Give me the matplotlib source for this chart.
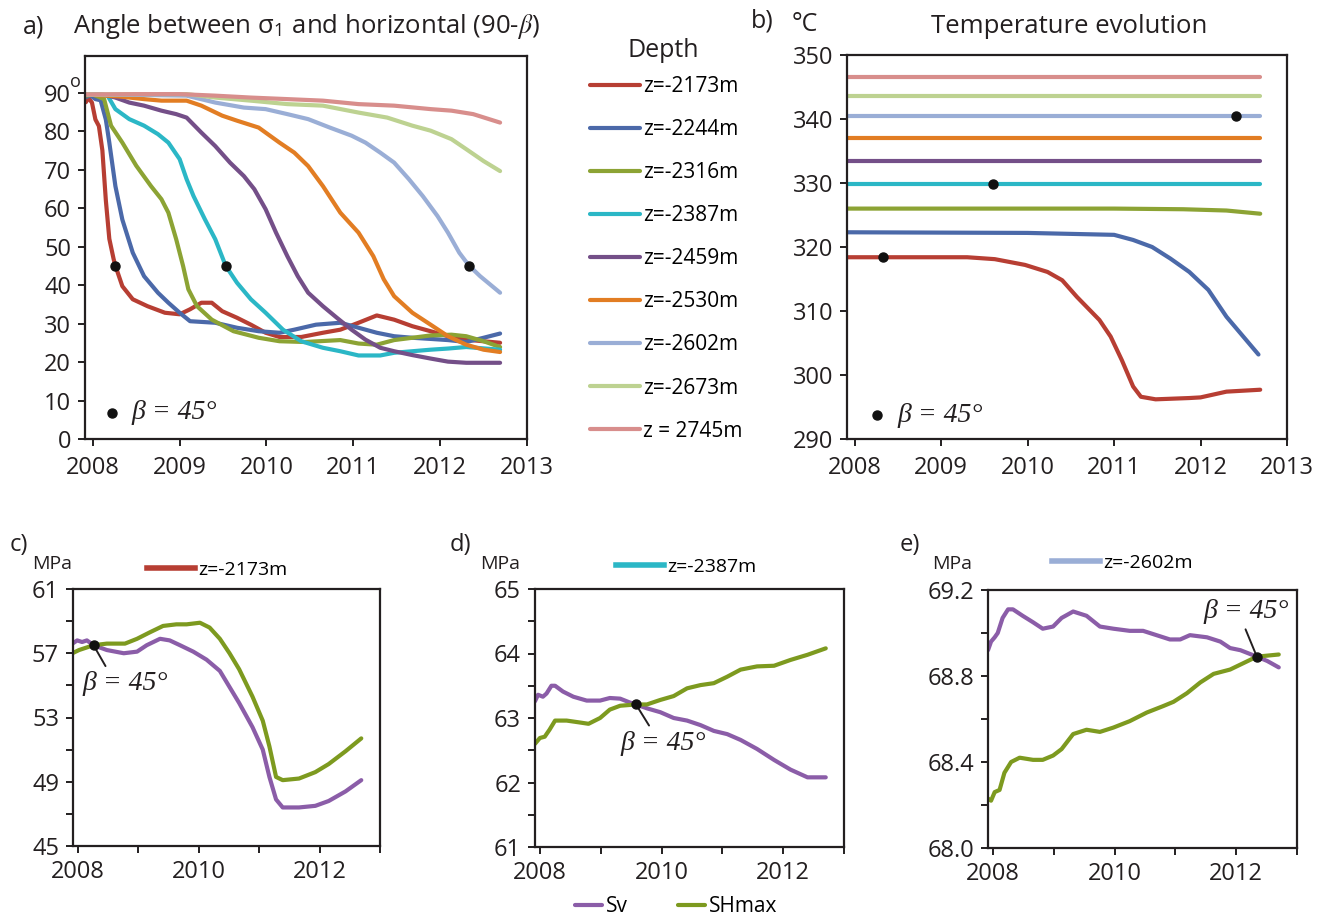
import matplotlib.pyplot as plt
from matplotlib.lines import Line2D

plt.rcParams['font.family'] = ['Open Sans', 'DejaVu Sans']
plt.rcParams['mathtext.fontset'] = 'stix'

W, H = 1325, 919

# ---- depth series (legend order) ----
depth_labels = ['z=-2173m', 'z=-2244m', 'z=-2316m', 'z=-2387m', 'z=-2459m',
                'z=-2530m', 'z=-2602m', 'z=-2673m', 'z = 2745m']
depth_colors = ['#b73e33', '#4b69a9', '#8ca334', '#2bb7c6', '#744f88',
                '#e27d23', '#9aaed6', '#bdd291', '#d88e8c']

# ---- a) angle between sigma1 and horizontal ----
ang_2173_t = [2007.92, 2007.95, 2007.99, 2008.03, 2008.07, 2008.11, 2008.15, 2008.19, 2008.24,
              2008.26, 2008.34, 2008.46, 2008.63, 2008.83, 2009.0, 2009.12, 2009.25, 2009.37,
              2009.49, 2009.66, 2009.82, 2009.99, 2010.15, 2010.40, 2010.65, 2010.85, 2011.06,
              2011.27, 2011.47, 2011.68, 2011.89, 2012.09, 2012.30, 2012.69]
ang_2173 = [87.5, 88.6, 87.4, 83.0, 81.3, 75.0, 62.0, 52.0, 46.7, 45.0, 39.7, 36.3, 34.5, 32.8,
            32.4, 33.7, 35.4, 35.4, 33.2, 31.5, 29.7, 27.6, 26.5, 26.5, 27.6, 28.4, 30.2, 32.1,
            31.0, 29.3, 28.0, 26.7, 25.8, 25.0]
ang_2244_t = [2007.92, 2007.97, 2008.03, 2008.09, 2008.15, 2008.19, 2008.26, 2008.34, 2008.46,
              2008.59, 2008.75, 2008.87, 2009.0, 2009.12, 2009.41, 2009.66, 2009.91, 2010.15,
              2010.32, 2010.57, 2010.85, 2011.06, 2011.27, 2011.47, 2011.68, 2011.89, 2012.09,
              2012.30, 2012.50, 2012.69]
ang_2244 = [88.8, 89.3, 88.3, 88.0, 83.0, 77.0, 65.7, 57.0, 48.4, 42.3, 38.0, 35.4, 32.8, 30.6,
            30.2, 28.9, 28.0, 27.6, 28.4, 29.7, 30.2, 28.9, 27.6, 26.7, 26.3, 26.0, 25.7, 25.2,
            26.3, 27.4]
ang_2316_t = [2007.92, 2008.0, 2008.13, 2008.21, 2008.34, 2008.50, 2008.67, 2008.79, 2008.87,
              2008.96, 2009.04, 2009.10, 2009.20, 2009.37, 2009.62, 2009.91, 2010.15, 2010.44,
              2010.85, 2011.06, 2011.27, 2011.47, 2011.68, 2011.89, 2012.13, 2012.30, 2012.50,
              2012.69]
ang_2316 = [89.2, 89.5, 88.3, 81.4, 77.0, 71.0, 65.7, 62.3, 58.8, 51.9, 44.9, 38.9, 34.5, 31.0,
            28.0, 26.3, 25.4, 25.2, 25.7, 24.8, 24.5, 25.7, 26.3, 26.9, 27.1, 26.7, 25.4, 23.9]
ang_2387_t = [2007.92, 2008.05, 2008.17, 2008.26, 2008.42, 2008.59, 2008.75, 2008.87, 2009.0,
              2009.08, 2009.16, 2009.29, 2009.41, 2009.53, 2009.66, 2009.82, 2009.99, 2010.19,
              2010.40, 2010.65, 2010.85, 2011.06, 2011.31, 2011.47, 2011.89, 2012.09, 2012.30,
              2012.69]
ang_2387 = [89.5, 89.6, 89.2, 85.7, 83.1, 81.4, 79.2, 77.0, 72.7, 67.5, 63.1, 57.1, 51.9, 45.0,
            40.6, 36.3, 32.8, 28.4, 25.4, 23.7, 22.8, 21.7, 21.7, 22.4, 23.2, 23.5, 23.9, 23.2]
ang_2459_t = [2007.92, 2008.1, 2008.26, 2008.42, 2008.59, 2008.79, 2008.96, 2009.08, 2009.25,
              2009.41, 2009.58, 2009.74, 2009.86, 2009.99, 2010.11, 2010.24, 2010.36, 2010.48,
              2010.65, 2010.81, 2010.98, 2011.14, 2011.31, 2011.47, 2011.68, 2011.89, 2012.09,
              2012.30, 2012.69]
ang_2459 = [89.5, 89.6, 88.7, 87.4, 86.6, 85.3, 84.4, 83.5, 79.6, 76.1, 71.8, 68.3, 64.9, 59.7,
            53.6, 47.5, 42.3, 38.0, 34.5, 31.5, 28.4, 25.8, 23.7, 22.8, 21.8, 20.9, 20.1, 19.8,
            19.8]
ang_2530_t = [2007.92, 2008.3, 2008.59, 2008.79, 2009.08, 2009.25, 2009.49, 2009.66, 2009.91,
              2010.15, 2010.32, 2010.48, 2010.65, 2010.85, 2011.06, 2011.23, 2011.35, 2011.47,
              2011.68, 2011.89, 2012.09, 2012.30, 2012.50, 2012.69]
ang_2530 = [89.5, 89.0, 88.3, 87.9, 87.9, 86.6, 84.0, 82.7, 80.9, 77.0, 74.4, 70.9, 65.7, 58.8,
            53.6, 47.5, 41.5, 37.1, 32.8, 29.7, 26.7, 24.5, 23.2, 22.6]
ang_2602_t = [2007.92, 2008.5, 2009.08, 2009.41, 2009.74, 2009.99, 2010.24, 2010.48, 2010.73,
              2010.98, 2011.14, 2011.31, 2011.47, 2011.64, 2011.80, 2011.97, 2012.09, 2012.22,
              2012.33, 2012.46, 2012.69]
ang_2602 = [89.5, 89.4, 89.2, 87.4, 86.1, 85.7, 84.4, 83.1, 80.9, 78.8, 77.0, 74.4, 71.8, 67.5,
            63.1, 57.9, 53.6, 48.4, 45.1, 42.3, 38.0]
ang_2673_t = [2007.92, 2008.5, 2009.08, 2009.41, 2009.82, 2010.24, 2010.65, 2011.06, 2011.39,
              2011.68, 2011.89, 2012.13, 2012.30, 2012.50, 2012.69]
ang_2673 = [89.5, 89.6, 89.6, 88.7, 87.9, 87.0, 86.6, 84.8, 83.5, 81.4, 80.1, 77.9, 75.3, 72.2,
            69.6]
ang_2745_t = [2007.92, 2008.5, 2009.0, 2009.41, 2009.82, 2010.24, 2010.65, 2011.06, 2011.47,
              2011.89, 2012.13, 2012.38, 2012.69]
ang_2745 = [89.5, 89.6, 89.6, 89.2, 88.7, 88.3, 87.9, 87.0, 86.6, 85.7, 85.3, 84.4, 82.2]
ang_times = [ang_2173_t, ang_2244_t, ang_2316_t, ang_2387_t, ang_2459_t,
             ang_2530_t, ang_2602_t, ang_2673_t, ang_2745_t]
ang_vals = [ang_2173, ang_2244, ang_2316, ang_2387, ang_2459,
            ang_2530, ang_2602, ang_2673, ang_2745]
ang_beta_t = [2008.26, 2009.53, 2012.33]
ang_beta_v = [45, 45, 45]

# ---- b) temperature evolution ----
tmp_2173_t = [2007.92, 2009.3, 2009.62, 2009.97, 2010.23, 2010.40, 2010.57, 2010.83, 2010.96,
              2011.09, 2011.22, 2011.31, 2011.48, 2011.87, 2012.0, 2012.30, 2012.69]
tmp_2173 = [318.4, 318.4, 318.1, 317.2, 316.1, 314.8, 312.2, 308.6, 306.0, 302.3, 298.2, 296.6,
            296.2, 296.4, 296.5, 297.4, 297.7]
tmp_2244_t = [2007.92, 2010.0, 2011.0, 2011.22, 2011.44, 2011.65, 2011.87, 2012.09, 2012.30,
              2012.67]
tmp_2244 = [322.3, 322.2, 321.9, 321.1, 320.0, 318.2, 316.1, 313.3, 309.1, 303.2]
tmp_2316_t = [2007.92, 2011.0, 2011.8, 2012.3, 2012.69]
tmp_2316 = [326.0, 326.0, 325.9, 325.7, 325.2]
tmp_2387_t = [2007.92, 2012.69]
tmp_2387 = [329.8, 329.8]
tmp_2459_t = [2007.92, 2012.69]
tmp_2459 = [333.4, 333.4]
tmp_2530_t = [2007.92, 2012.69]
tmp_2530 = [337.0, 337.0]
tmp_2602_t = [2007.92, 2012.69]
tmp_2602 = [340.4, 340.4]
tmp_2673_t = [2007.92, 2012.69]
tmp_2673 = [343.6, 343.6]
tmp_2745_t = [2007.92, 2012.69]
tmp_2745 = [346.6, 346.6]
tmp_times = [tmp_2173_t, tmp_2244_t, tmp_2316_t, tmp_2387_t, tmp_2459_t,
             tmp_2530_t, tmp_2602_t, tmp_2673_t, tmp_2745_t]
tmp_vals = [tmp_2173, tmp_2244, tmp_2316, tmp_2387, tmp_2459,
            tmp_2530, tmp_2602, tmp_2673, tmp_2745]
tmp_beta_t = [2008.33, 2009.60, 2012.41]
tmp_beta_v = [318.4, 329.8, 340.4]

# ---- c) stresses at z=-2173m ----
c_sv_t = [2007.91, 2007.99, 2008.07, 2008.15, 2008.26, 2008.48, 2008.76, 2008.98, 2009.14,
          2009.36, 2009.52, 2009.69, 2009.91, 2010.13, 2010.35, 2010.51, 2010.67, 2010.89,
          2011.06, 2011.17, 2011.28, 2011.39, 2011.66, 2011.93, 2012.15, 2012.43, 2012.69]
c_sv = [57.6, 57.8, 57.7, 57.8, 57.5, 57.2, 57.0, 57.1, 57.5, 57.9, 57.8, 57.5, 57.1, 56.6,
        55.9, 54.9, 53.9, 52.4, 51.0, 49.3, 47.9, 47.4, 47.4, 47.5, 47.8, 48.4, 49.1]
c_sh_t = [2007.91, 2008.02, 2008.10, 2008.26, 2008.48, 2008.78, 2008.98, 2009.19, 2009.41,
          2009.63, 2009.80, 2010.02, 2010.18, 2010.35, 2010.51, 2010.67, 2010.89, 2011.06,
          2011.17, 2011.28, 2011.39, 2011.66, 2011.93, 2012.15, 2012.43, 2012.69]
c_sh = [57.0, 57.2, 57.3, 57.5, 57.6, 57.6, 57.9, 58.3, 58.7, 58.8, 58.8, 58.9, 58.6, 57.9,
        57.0, 56.0, 54.3, 52.8, 51.2, 49.3, 49.1, 49.2, 49.6, 50.1, 50.9, 51.7]
c_beta = (2008.26, 57.5)

# ---- d) stresses at z=-2387m ----
d_sv_t = [2007.92, 2007.97, 2008.05, 2008.11, 2008.19, 2008.25, 2008.38, 2008.55, 2008.77,
          2008.99, 2009.15, 2009.32, 2009.48, 2009.58, 2009.76, 2009.98, 2010.20, 2010.42,
          2010.64, 2010.86, 2011.08, 2011.30, 2011.57, 2011.85, 2012.12, 2012.40, 2012.70]
d_sv = [63.26, 63.36, 63.33, 63.38, 63.50, 63.50, 63.41, 63.33, 63.27, 63.27, 63.31, 63.30,
        63.24, 63.21, 63.15, 63.09, 63.00, 62.96, 62.89, 62.80, 62.75, 62.66, 62.52, 62.35,
        62.20, 62.08, 62.08]
d_sh_t = [2007.92, 2008.0, 2008.08, 2008.16, 2008.25, 2008.44, 2008.66, 2008.80, 2008.99,
          2009.15, 2009.32, 2009.58, 2009.76, 2009.98, 2010.20, 2010.42, 2010.64, 2010.86,
          2011.08, 2011.30, 2011.57, 2011.85, 2012.12, 2012.40, 2012.70]
d_sh = [62.60, 62.69, 62.71, 62.82, 62.96, 62.96, 62.93, 62.91, 63.00, 63.13, 63.19, 63.21,
        63.21, 63.28, 63.34, 63.46, 63.51, 63.54, 63.64, 63.75, 63.80, 63.81, 63.90, 63.98,
        64.08]
d_beta = (2009.58, 63.21)

# ---- e) stresses at z=-2602m ----
e_sv_t = [2007.92, 2007.97, 2008.03, 2008.08, 2008.16, 2008.25, 2008.33, 2008.49, 2008.66,
          2008.82, 2008.99, 2009.13, 2009.32, 2009.54, 2009.76, 2009.98, 2010.25, 2010.47,
          2010.69, 2010.91, 2011.08, 2011.24, 2011.52, 2011.74, 2011.90, 2012.07, 2012.34,
          2012.51, 2012.70]
e_sv = [68.92, 68.96, 68.98, 69.00, 69.07, 69.11, 69.11, 69.08, 69.05, 69.02, 69.03, 69.07,
        69.10, 69.08, 69.03, 69.02, 69.01, 69.01, 68.99, 68.97, 68.97, 68.99, 68.98, 68.96,
        68.93, 68.92, 68.89, 68.87, 68.84]
e_sh_t = [2007.92, 2007.97, 2008.03, 2008.11, 2008.19, 2008.30, 2008.44, 2008.66, 2008.82,
          2008.99, 2009.13, 2009.32, 2009.54, 2009.76, 2009.98, 2010.25, 2010.53, 2010.80,
          2010.97, 2011.19, 2011.41, 2011.63, 2011.90, 2012.12, 2012.34, 2012.70]
e_sh = [68.23, 68.22, 68.26, 68.27, 68.35, 68.40, 68.42, 68.41, 68.41, 68.43, 68.46, 68.53,
        68.55, 68.54, 68.56, 68.59, 68.63, 68.66, 68.68, 68.72, 68.77, 68.81, 68.83, 68.86,
        68.89, 68.90]
e_beta = (2012.34, 68.89)

sv_color = '#8b5da8'
sh_color = '#7d9a1f'
ink = '#231f20'
LW = 3.0
beta_font = dict(family=['Liberation Serif', 'DejaVu Serif'], style='italic', size=20, color=ink)


def box(left, top, right, bottom):
    return [left / W, 1 - bottom / H, (right - left) / W, (bottom - top) / H]


def style(ax, xpad=7):
    for s in ax.spines.values():
        s.set_linewidth(1.6)
        s.set_color(ink)
    ax.tick_params(which='both', direction='out', length=5, width=1.4, colors=ink, labelsize=17)
    ax.tick_params(axis='x', pad=xpad)
    ax.tick_params(axis='y', pad=5)


def ftext(x, y, s, **kw):
    fig.text(x / W, 1 - y / H, s, color=ink, **kw)


fig = plt.figure(figsize=(W / 100, H / 100), dpi=100)

# a)
ax_a = fig.add_axes(box(85, 56, 527, 439))
for t, v, c, lab in zip(ang_times, ang_vals, depth_colors, depth_labels):
    ax_a.plot(t, v, color=c, lw=LW, label=lab, solid_capstyle='round')
ax_a.plot(ang_beta_t, ang_beta_v, 'o', color='#111111', ms=6.5, zorder=5)
ax_a.set_xlim(2007.91, 2013)
ax_a.set_ylim(0, 99.5)
ax_a.set_xticks(range(2008, 2014))
ax_a.set_yticks(range(0, 100, 10))
style(ax_a)
# small raised "o" after the 90 tick label
ax_a.text(-0.022, 90.3, 'o', transform=ax_a.get_yaxis_transform(), fontsize=13,
          ha='center', va='bottom', color=ink)
ax_a.plot([0.061], [0.068], 'o', color='#111111', ms=6.5, transform=ax_a.transAxes)
ax_a.text(0.105, 0.068, 'β = 45°', transform=ax_a.transAxes, va='center', **beta_font)

# b)
ax_b = fig.add_axes(box(847, 55, 1287, 439))
for t, v, c in zip(tmp_times, tmp_vals, depth_colors):
    ax_b.plot(t, v, color=c, lw=LW, solid_capstyle='round')
ax_b.plot(tmp_beta_t, tmp_beta_v, 'o', color='#111111', ms=6.5, zorder=5)
ax_b.set_xlim(2007.91, 2013)
ax_b.set_ylim(290, 350)
ax_b.set_xticks(range(2008, 2014))
ax_b.set_yticks(range(290, 351, 10))
style(ax_b)
ax_b.plot([0.069], [0.0625], 'o', color='#111111', ms=6.5, transform=ax_b.transAxes)
ax_b.text(0.115, 0.0625, 'β = 45°', transform=ax_b.transAxes, va='center', **beta_font)

# c), d), e)
panels = [
    (box(73, 589, 380, 846), c_sv_t, c_sv, c_sh_t, c_sh, c_beta, (45, 61), 4, 2,
     (2008.79, 55.1), (0.3, 1.0), depth_labels[0], depth_colors[0], 147, 570),
    (box(535, 589, 844, 847), d_sv_t, d_sv, d_sh_t, d_sh, d_beta, (61, 65), 1, 0.5,
     (2010.03, 62.61), (0.37, 1.0), depth_labels[3], depth_colors[3], 616, 567),
    (box(988, 590, 1297, 848), e_sv_t, e_sv, e_sh_t, e_sh, e_beta, (68.0, 69.2), 0.4, 0.2,
     (2012.16, 69.10), (0.47, 0.0), depth_labels[6], depth_colors[6], 1052, 563),
]
sv_line = sh_line = None
for (rect, svt, sv, sht, sh, beta, ylim, ymaj, ymin, txy, rel, zlab, zcol, lx, ly) in panels:
    ax = fig.add_axes(rect)
    sv_line, = ax.plot(svt, sv, color=sv_color, lw=LW, solid_capstyle='round')
    sh_line, = ax.plot(sht, sh, color=sh_color, lw=LW, solid_capstyle='round')
    ax.plot([beta[0]], [beta[1]], 'o', color='#111111', ms=6.5, zorder=5)
    ax.annotate('β = 45°', xy=beta, xytext=txy, ha='center', va='center',
                arrowprops=dict(arrowstyle='-', color=ink, lw=1.4, relpos=rel,
                                shrinkA=2, shrinkB=0), **beta_font)
    ax.set_xlim(2007.92, 2013)
    ax.set_ylim(*ylim)
    ax.set_xticks([2008, 2010, 2012])
    ax.set_xticks([2009, 2011, 2013], minor=True)
    n = int(round((ylim[1] - ylim[0]) / ymin))
    ticks = [ylim[0] + i * ymin for i in range(n + 1)]
    major = ticks[::int(round(ymaj / ymin))]
    ax.set_yticks(major)
    ax.set_yticks([v for v in ticks if v not in major], minor=True)
    if ymaj < 1:
        ax.set_yticklabels(['%.1f' % v for v in major])
    else:
        ax.set_yticklabels(['%d' % v for v in major])
    style(ax, xpad=5)
    ax.legend([Line2D([], [], color=zcol, lw=4)], [zlab], loc='center left',
              bbox_to_anchor=(lx / W, 1 - ly / H), bbox_transform=fig.transFigure,
              frameon=False, borderpad=0, borderaxespad=0, handlelength=2.45,
              handletextpad=0.2, fontsize=14)

# depth legend
ftext(663, 57, 'Depth', fontsize=18, ha='center', va='baseline')
fig.legend(ax_a.get_lines()[:9], depth_labels, loc='upper left',
           bbox_to_anchor=(590 / W, 1 - 76 / H), frameon=False, borderpad=0,
           borderaxespad=0, handlelength=2.4, handletextpad=0.15, labelspacing=1.06,
           fontsize=15)

# Sv / SHmax legend
fig.legend([sv_line, sh_line], ['Sv', 'SHmax'], loc='center left',
           bbox_to_anchor=(575 / W, 1 - 907 / H), frameon=False, borderpad=0,
           borderaxespad=0, ncol=2, handlelength=1.3, handletextpad=0.2,
           columnspacing=2.4, fontsize=15)

# panel labels and titles
ftext(23, 33, 'a)', fontsize=18, va='baseline')
ftext(306, 33, r'Angle between σ$_\mathregular{1}$ and horizontal (90-$\beta$)', fontsize=18.5,
      ha='center', va='baseline')
ftext(751, 28, 'b)', fontsize=18, va='baseline')
ftext(792, 31, '°C', fontsize=18, va='baseline')
ftext(1069, 33, 'Temperature evolution', fontsize=18.5, ha='center', va='baseline')
for x, lab in [(10, 'c)'), (450, 'd)'), (900, 'e)')]:
    ftext(x, 551, lab, fontsize=17, va='baseline')
for x in [32, 480, 932]:
    ftext(x, 569, 'MPa', fontsize=14, va='baseline')

fig.savefig('out.png', dpi=100)
